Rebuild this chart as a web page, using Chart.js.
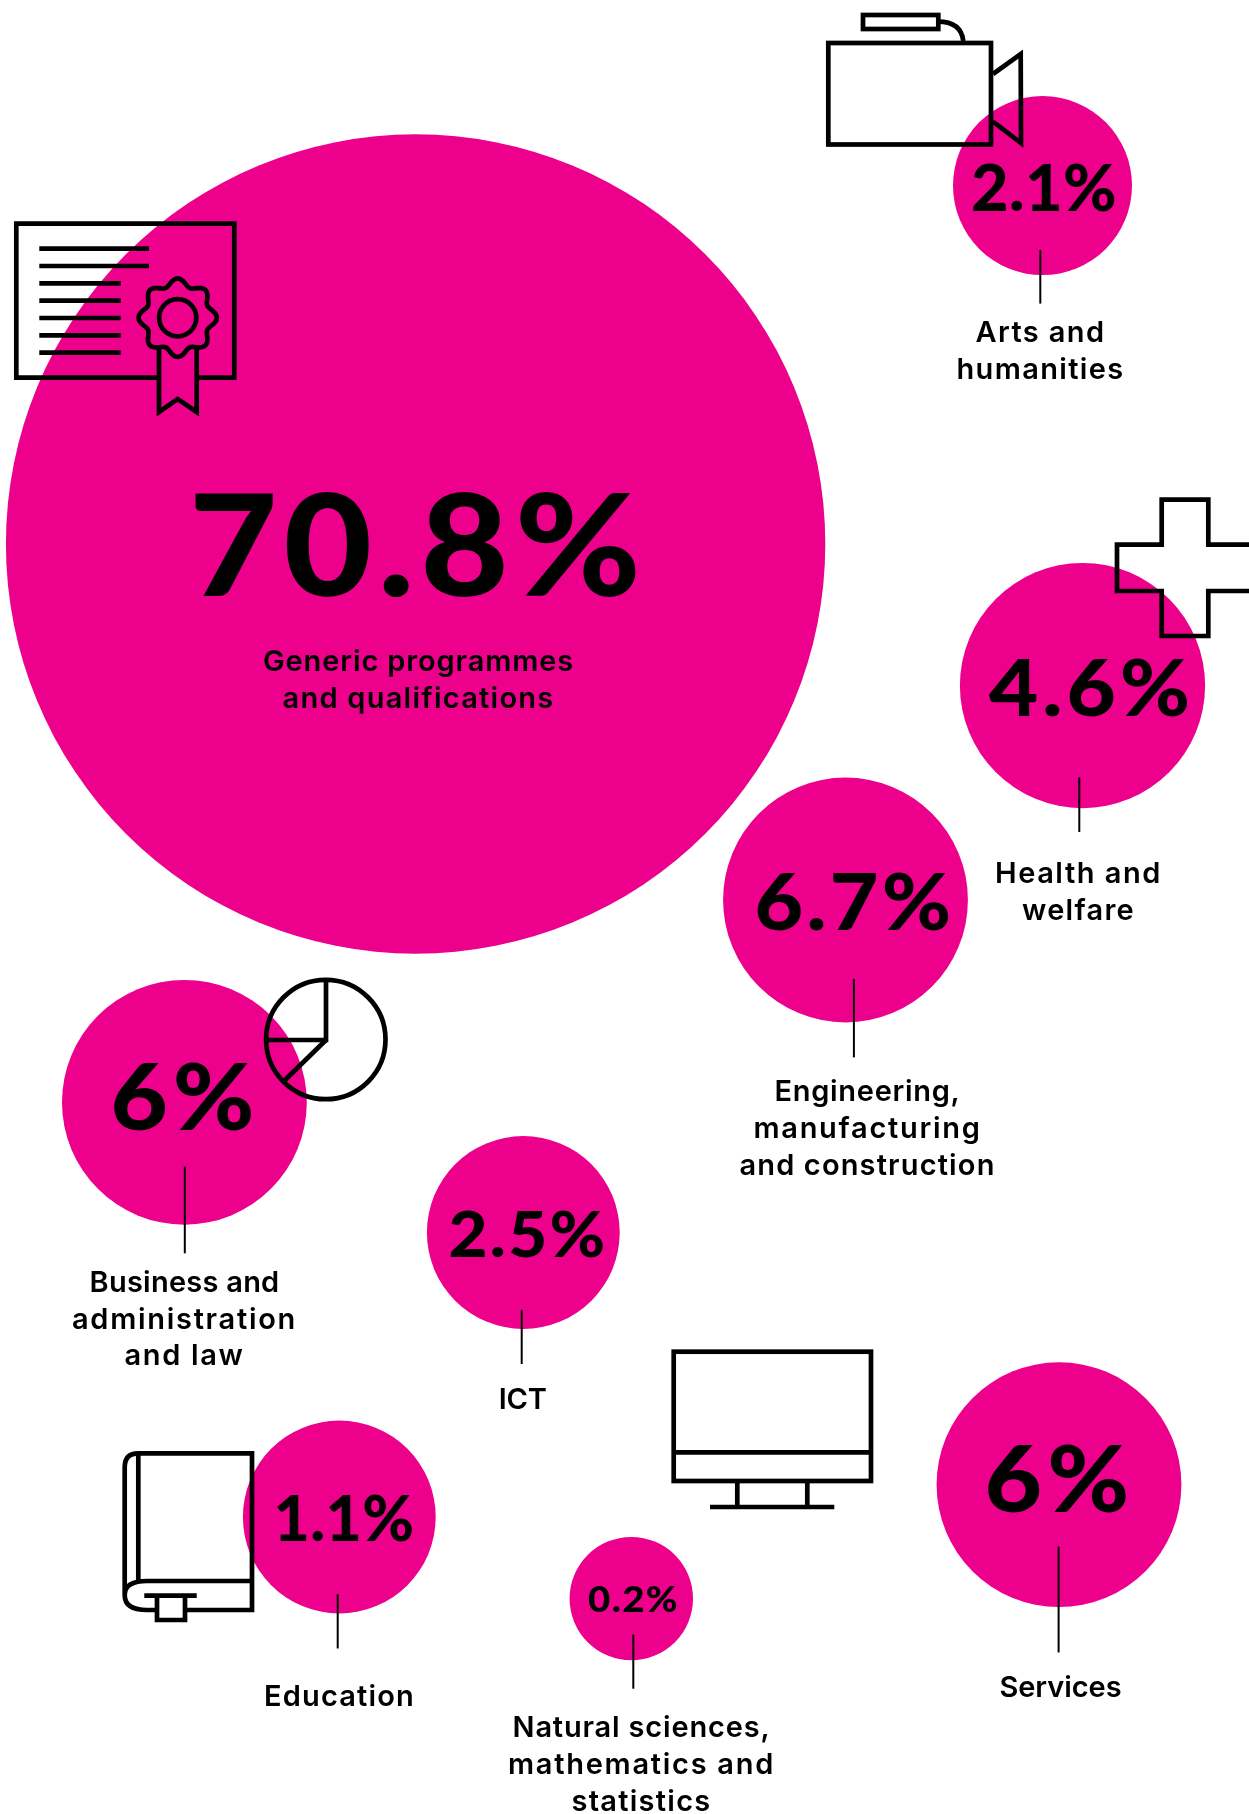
<!DOCTYPE html>
<html>
<head>
<meta charset="utf-8">
<style>html,body{margin:0;padding:0;background:#fff}canvas{display:block}</style>
<script src="https://cdn.jsdelivr.net/npm/chart.js@4"></script>
</head>
<body>
<canvas id="c" width="1249" height="1814" style="width:1249px;height:1814px"></canvas>
<script>
const categories = ["Generic programmes and qualifications","Arts and humanities","Health and welfare","Engineering, manufacturing and construction","Business and administration and law","ICT","Education","Natural sciences, mathematics and statistics","Services"];
const shares = [70.8,2.1,4.6,6.7,6,2.5,1.1,0.2,6];
const shareLabels = ["70.8%","2.1%","4.6%","6.7%","6%","2.5%","1.1%","0.2%","6%"];
const bubbleX = [415.6,1042.5,1082.5,845.5,184.4,523.3,339.3,631.3,1059];
const bubbleY = [544,185.6,685.6,900,1102.3,1232.5,1517,1598.6,1484.7];
const bubbleR = [409.7,89.5,122.6,122.4,122.4,96.4,96.4,61.7,122.4];

const PINK = "#ED008C";
// layout of the share text: centre x, baseline y, font px, target width
const shareLayout = [[418,596,142,458],[1044,210.5,64,146],[1091.5,715.5,78,205],[854.5,930,78,200],[185,1130,92,149],[528,1256.7,63,159],[344,1541,62,141],[633.5,1612,36,91],[1059.5,1512,92,150]];
// category text split in lines: centre x, first baseline y, then the width of each line
const labelLines = [["Generic programmes","and qualifications"],["Arts and","humanities"],["Health and","welfare"],["Engineering,","manufacturing","and construction"],["Business and","administration","and law"],["ICT"],["Education"],["Natural sciences,","mathematics and","statistics"],["Services"]];
const labelLayout = [[418.5,671],[1040.5,342],[1078.5,883],[867.5,1101],[184.5,1291.7],[522.7,1409],[339.5,1706],[641.5,1737],[1060.5,1697.4]];
const labelWidths = [[311,272],[130,168],[167,113],[186,228,256],[190,225,120],[48],[151],[258,267,140],[122]];
// leader rules: x, top, bottom (index aligned with categories; first has none)
const leaders = [null,[1040.3,250,303.6],[1079.3,777.4,832],[853.9,979,1057.4],[184.8,1166.4,1253.3],[521.7,1309.8,1364],[337.7,1594.3,1648.5],[633.3,1634.5,1688.7],[1058.6,1546.5,1652.5]];

function stroke(ctx, pts, close){
  ctx.beginPath();
  pts.forEach((p,i)=> i? ctx.lineTo(p[0],p[1]) : ctx.moveTo(p[0],p[1]));
  if(close) ctx.closePath();
  ctx.stroke();
}
function drawIcons(ctx){
  ctx.save();
  ctx.strokeStyle="#000"; ctx.lineWidth=4.7; ctx.lineJoin="miter"; ctx.lineCap="butt";
  // camera
  ctx.strokeRect(828.3,43,162.7,101.5);
  ctx.strokeRect(863,15,75.3,14);
  ctx.beginPath(); ctx.moveTo(938,21.7); ctx.quadraticCurveTo(961,21.7,963.3,41); ctx.stroke();
  stroke(ctx,[[993,74],[1020.7,54],[1021,143],[993,121.7]]);
  // certificate
  stroke(ctx,[[159,377.7],[16.3,377.7],[16.3,223.7],[234.3,223.7],[234.3,377.7],[196.7,377.7]]);
  [248.7,266].forEach(y=>stroke(ctx,[[39.3,y],[149,y]]));
  [283.3,300.7,318,335.3,352.7].forEach(y=>stroke(ctx,[[39.3,y],[120.7,y]]));
  const bx=177.7,by=317.7;
  ctx.beginPath(); ctx.arc(bx,by,18.6,0,Math.PI*2); ctx.stroke();
  const ros=[];
  for(let a=0;a<360;a+=3){const t=a*Math.PI/180,r=35.6+3.6*Math.cos(8*t);ros.push([bx+r*Math.cos(t),by+r*Math.sin(t)]);}
  stroke(ctx,ros,true);
  stroke(ctx,[[159,349],[159,412],[177.7,399],[196.7,412],[196.7,349]]);
  // cross
  stroke(ctx,[[1260,544.7],[1208.3,544.7],[1208.3,499.7],[1161.7,499.7],[1161.7,544.7],[1117,544.7],[1117,591],[1161.7,591],[1161.7,636],[1208.3,636],[1208.3,591],[1260,591]]);
  // pie
  ctx.beginPath(); ctx.arc(325.8,1039.5,59.7,0,Math.PI*2); ctx.stroke();
  stroke(ctx,[[326,980],[326,1040],[266,1040]]);
  stroke(ctx,[[326,1040],[285,1080]]);
  // book
  ctx.beginPath();
  ctx.moveTo(138.3,1581); ctx.lineTo(138.3,1453.3);
  ctx.moveTo(252,1581); ctx.lineTo(147,1581);
  ctx.quadraticCurveTo(124.7,1581,124.7,1595);
  ctx.quadraticCurveTo(124.7,1610,147,1610); ctx.lineTo(156,1610);
  ctx.moveTo(124.7,1595); ctx.lineTo(124.7,1467);
  ctx.quadraticCurveTo(124.7,1453.3,138.3,1453.3); ctx.lineTo(252,1453.3); ctx.lineTo(252,1610); ctx.lineTo(185,1610);
  ctx.moveTo(144.3,1595.7); ctx.lineTo(196.7,1595.7);
  ctx.stroke();
  stroke(ctx,[[157,1595.7],[157,1620],[185,1620],[185,1595.7]]);
  // monitor
  ctx.strokeRect(673.7,1351.7,197.3,129.3);
  stroke(ctx,[[673.7,1452.3],[871,1452.3]]);
  stroke(ctx,[[737.3,1481],[737.3,1507]]);
  stroke(ctx,[[807.3,1481],[807.3,1507]]);
  stroke(ctx,[[710,1507],[834.3,1507]]);
  ctx.restore();
}
// widen the figures partly by stretch, partly by tracking
function stretchText(ctx,text,x,y,target){
  const natural=ctx.measureText(text).width;
  const k=1+(target/natural-1)*0.5;
  ctx.save();
  ctx.translate(x,y);
  ctx.scale(k,1);
  ctx.letterSpacing=((target/k-natural)/text.length).toFixed(2)+"px";
  ctx.fillText(text,0,0);
  ctx.restore();
}
function spacedText(ctx,text,x,y,target){
  ctx.letterSpacing="0px";
  const ls=(target-ctx.measureText(text).width)/text.length;
  ctx.letterSpacing=ls.toFixed(2)+"px";
  ctx.fillText(text,x,y);
  ctx.letterSpacing="0px";
}
const overlay={
  id:"overlay",
  afterDatasetsDraw(chart){
    const ctx=chart.ctx, xs=chart.scales.x, ys=chart.scales.y;
    drawIcons(ctx);
    ctx.save();
    ctx.strokeStyle="#000"; ctx.lineWidth=2;
    leaders.forEach(l=>{ if(!l) return;
      const x=xs.getPixelForValue(l[0]);
      ctx.beginPath(); ctx.moveTo(x,ys.getPixelForValue(l[1])); ctx.lineTo(x,ys.getPixelForValue(l[2])); ctx.stroke();
    });
    ctx.fillStyle="#000"; ctx.textAlign="center"; ctx.textBaseline="alphabetic";
    shareLayout.forEach((s,i)=>{
      ctx.font='900 '+s[2]+'px Lato';
      stretchText(ctx,shareLabels[i],s[0],s[1],s[3]);
    });
    ctx.font='600 29px Inter';
    labelLines.forEach((lines,i)=>{
      const p=labelLayout[i];
      lines.forEach((ln,j)=>spacedText(ctx,ln,p[0],p[1]+j*36.8,labelWidths[i][j]));
    });
    ctx.restore();
  }
};
new Chart(document.getElementById("c"),{
  type:"bubble",
  data:{labels:categories,datasets:[{
    label:"Share",
    data:shares.map((v,i)=>({x:bubbleX[i],y:bubbleY[i],r:bubbleR[i],share:v})),
    backgroundColor:PINK,borderWidth:0,hoverBorderWidth:0
  }]},
  options:{
    responsive:false,animation:false,
    layout:{padding:0,autoPadding:false},
    clip:false,
    plugins:{legend:{display:false},tooltip:{enabled:false}},
    scales:{
      x:{type:"linear",min:0,max:1249,display:false},
      y:{type:"linear",min:0,max:1814,reverse:true,display:false}
    }
  },
  plugins:[overlay]
});
</script>
</body>
</html>
